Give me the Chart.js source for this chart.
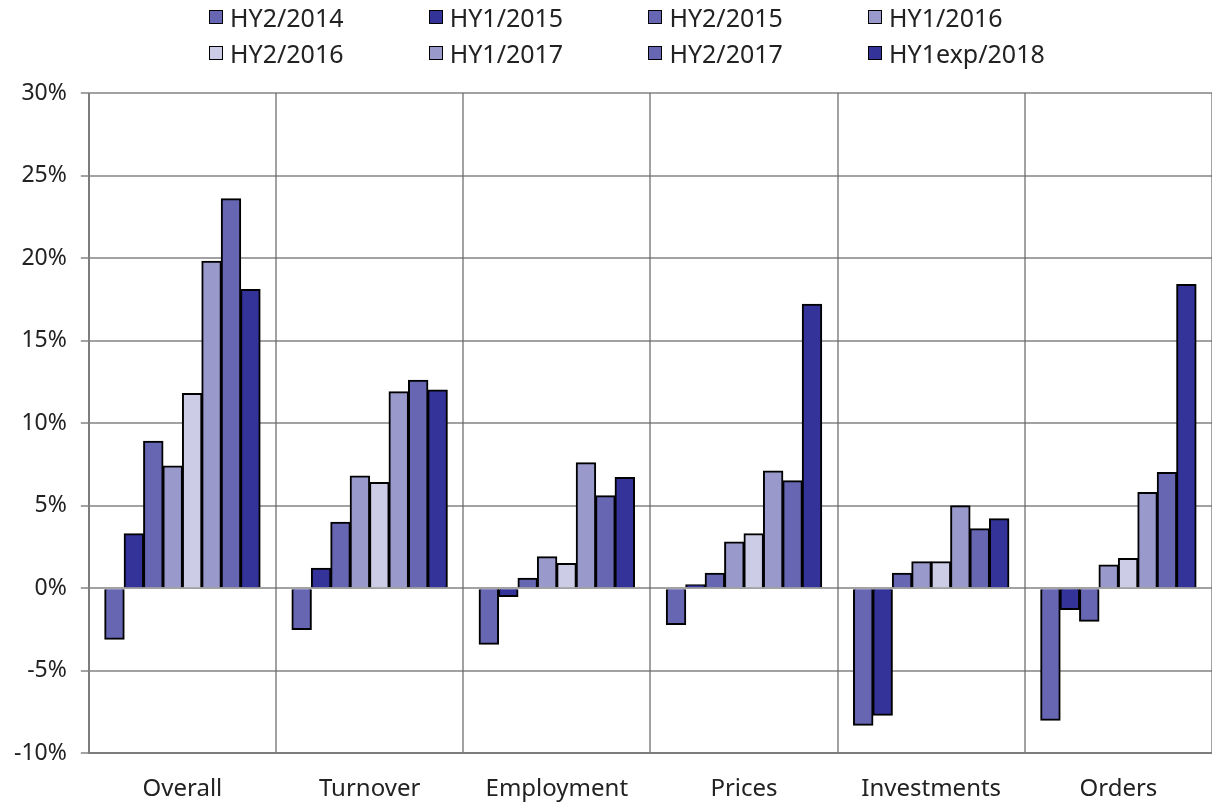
<!DOCTYPE html>
<html>
<head>
<meta charset="utf-8">
<script src="https://cdn.jsdelivr.net/npm/chart.js@4.4.1/dist/chart.umd.min.js"></script>
<style>
  html, body { margin: 0; padding: 0; background: #fff; }
  #wrap { position: relative; width: 1212px; height: 803px; overflow: hidden; }
  #legend {
    position: absolute; left: 209px; top: 1px;
    display: grid; grid-template-columns: repeat(4, 219.7px);
    row-gap: 4px;
    font-family: "Noto Sans", sans-serif; font-size: 25px; color: #222;
  }
  .item { display: flex; align-items: center; height: 32px; }
  .box { width: 12px; height: 12px; border: 1.5px solid #000; margin-right: 7px; }
</style>
</head>
<body>
<div id="wrap">
  <canvas id="myChart" width="1212" height="803"></canvas>
  <div id="legend"></div>
</div>
<script>
const categories = ['Overall', 'Turnover', 'Employment', 'Prices', 'Investments', 'Orders'];
const seriesNames = ['HY2/2014', 'HY1/2015', 'HY2/2015', 'HY1/2016', 'HY2/2016', 'HY1/2017', 'HY2/2017', 'HY1exp/2018'];
const hy2_2014 = [-3.1, -2.5, -3.4, -2.2, -8.3, -8.0];
const hy1_2015 = [3.3, 1.2, -0.5, 0.2, -7.7, -1.3];
const hy2_2015 = [8.9, 4.0, 0.6, 0.9, 0.9, -2.0];
const hy1_2016 = [7.4, 6.8, 1.9, 2.8, 1.6, 1.4];
const hy2_2016 = [11.8, 6.4, 1.5, 3.3, 1.6, 1.8];
const hy1_2017 = [19.8, 11.9, 7.6, 7.1, 5.0, 5.8];
const hy2_2017 = [23.6, 12.6, 5.6, 6.5, 3.6, 7.0];
const hy1exp_2018 = [18.1, 12.0, 6.7, 17.2, 4.2, 18.4];
const seriesValues = [hy2_2014, hy1_2015, hy2_2015, hy1_2016, hy2_2016, hy1_2017, hy2_2017, hy1exp_2018];
const seriesColors = ['#6666b3', '#333399', '#6666b3', '#9999cc', '#ccccE6', '#9999cc', '#6666b3', '#333399'];
const yTicks = [-10, -5, 0, 5, 10, 15, 20, 25, 30];

const gridColor = 'rgba(100,100,100,0.6)';

const ctx = document.getElementById('myChart').getContext('2d');
const myChart = new Chart(ctx, {
  type: 'bar',
  data: {
    labels: categories,
    datasets: seriesNames.map((name, i) => ({
      label: name,
      data: seriesValues[i],
      backgroundColor: seriesColors[i],
      borderColor: '#000',
      borderWidth: 2
    }))
  },
  options: {
    responsive: false,
    animation: false,
    datasets: { bar: { categoryPercentage: 0.83, barPercentage: 1.0, inflateAmount: 0.5 } },
    layout: { padding: { top: 93, left: 0, right: 0, bottom: -23 } },
    plugins: { legend: { display: false }, tooltip: { enabled: false } },
    scales: {
      x: {
        offset: true,
        grid: { offset: true, color: gridColor, lineWidth: 2, drawTicks: false },
        border: { color: gridColor, width: 2 },
        ticks: { padding: 22, color: '#222', font: { family: 'Noto Sans', size: 24 } }
      },
      y: {
        min: yTicks[0],
        max: yTicks[yTicks.length - 1],
        z: 1,
        afterBuildTicks: axis => { axis.ticks = yTicks.map(v => ({ value: v })); },
        grid: { color: gridColor, lineWidth: 2, tickLength: 8 },
        border: { color: gridColor, width: 2 },
        ticks: {
          padding: 14, color: '#222', font: { family: 'Noto Sans', size: 23 },
          callback: v => v + '%'
        }
      }
    }
  }
});

const legend = document.getElementById('legend');
myChart.data.datasets.forEach(ds => {
  const item = document.createElement('div');
  item.className = 'item';
  const box = document.createElement('span');
  box.className = 'box';
  box.style.background = ds.backgroundColor;
  const txt = document.createElement('span');
  txt.textContent = ds.label;
  item.appendChild(box);
  item.appendChild(txt);
  legend.appendChild(item);
});
</script>
</body>
</html>
